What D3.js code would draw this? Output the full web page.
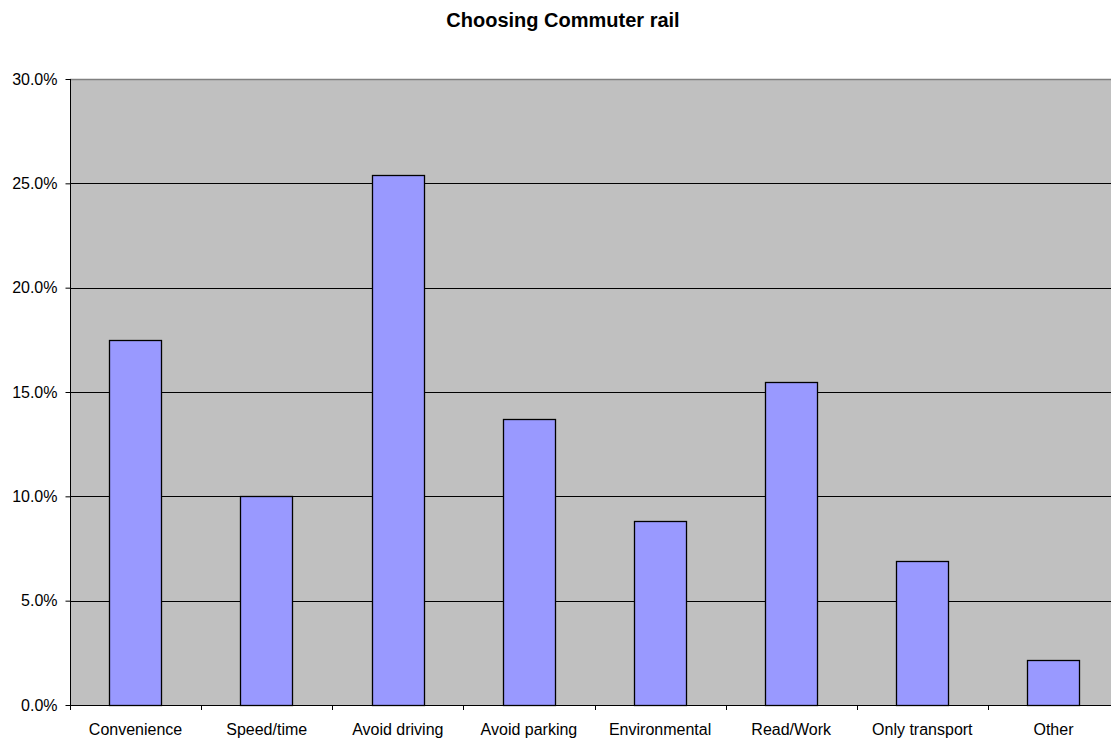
<!DOCTYPE html>
<html>
<head>
<meta charset="utf-8">
<script src="https://cdn.jsdelivr.net/npm/d3@7"></script>
<style>
  body { margin: 0; background: #fff; }
  svg text { font-family: "Liberation Sans", Arial, sans-serif; fill: #000; }
</style>
</head>
<body>
<svg id="chart"></svg>
<script>
// chart data
const categories = ["Convenience", "Speed/time", "Avoid driving", "Avoid parking", "Environmental", "Read/Work", "Only transport", "Other"];
const shares = [17.5, 10.0, 25.4, 13.7, 8.8, 15.5, 6.9, 2.15];
const yTicks = [0, 5, 10, 15, 20, 25, 30];

const width = 1111, height = 741;
const margin = { left: 70, top: 79, right: -8, bottom: 36 };

const svg = d3.select("#chart").attr("width", width).attr("height", height);

const x = d3.scaleBand()
  .domain(categories)
  .range([margin.left, width - margin.right])
  .paddingInner(0).paddingOuter(0);

const y = d3.scaleLinear()
  .domain([0, 30])
  .range([height - margin.bottom, margin.top]);

// plot background
svg.append("rect")
  .attr("x", margin.left).attr("y", margin.top)
  .attr("width", width - margin.right - margin.left)
  .attr("height", y(0) - margin.top)
  .attr("fill", "#c0c0c0");

// gridlines
svg.selectAll(".grid").data(yTicks.slice(1, -1)).enter()
  .append("line")
  .attr("x1", margin.left).attr("x2", width)
  .attr("y1", d => Math.round(y(d)) + 0.5).attr("y2", d => Math.round(y(d)) + 0.5)
  .attr("stroke", "#000").attr("stroke-width", 1);

// top border
svg.append("line")
  .attr("x1", margin.left).attr("x2", width)
  .attr("y1", Math.round(y(30)) + 0.5).attr("y2", Math.round(y(30)) + 0.5)
  .attr("stroke", "#808080").attr("stroke-width", 1.5);

// bars
const bw = x.bandwidth() * 0.4;
svg.selectAll(".bar").data(shares).enter()
  .append("rect")
  .attr("x", (d, i) => Math.round(x(categories[i]) + (x.bandwidth() - bw) / 2) + 0.5)
  .attr("y", d => Math.round(y(d)) + 0.5)
  .attr("width", Math.round(bw))
  .attr("height", d => Math.round(y(0)) - Math.round(y(d)))
  .attr("fill", "#9999ff")
  .attr("stroke", "#000").attr("stroke-width", 1.3);

// y axis
const yAxis = svg.append("g")
  .attr("transform", `translate(${margin.left + 0.5},0)`)
  .call(d3.axisLeft(y).tickValues(yTicks).tickSize(5).tickPadding(8).tickFormat(d => d.toFixed(1) + "%"));
yAxis.select(".domain").attr("stroke", "#000").attr("d", `M0,${y(30)}V${y(0)}`);
yAxis.selectAll(".tick line").attr("stroke", "#000");
yAxis.selectAll(".tick text").attr("font-size", 16).style("font-family", '"Liberation Sans", Arial, sans-serif');

// x axis
const xAxis = svg.append("g")
  .attr("transform", `translate(0,${Math.round(y(0)) + 0.5})`)
  .call(d3.axisBottom(x).tickSize(0).tickPadding(18));
xAxis.select(".domain").attr("stroke", "#000").attr("d", `M${margin.left},0H${width}`);
xAxis.selectAll(".tick text").attr("font-size", 16).style("font-family", '"Liberation Sans", Arial, sans-serif');

// separator ticks between categories
svg.selectAll(".sep").data(categories).enter()
  .append("line")
  .attr("x1", d => Math.round(x(d)) + 0.5).attr("x2", d => Math.round(x(d)) + 0.5)
  .attr("y1", Math.round(y(0))).attr("y2", Math.round(y(0)) + 5)
  .attr("stroke", "#000");

// title
svg.append("text")
  .attr("x", 563).attr("y", 27)
  .attr("text-anchor", "middle")
  .attr("font-size", 20).attr("font-weight", "bold")
  .text("Choosing Commuter rail");
</script>
</body>
</html>
